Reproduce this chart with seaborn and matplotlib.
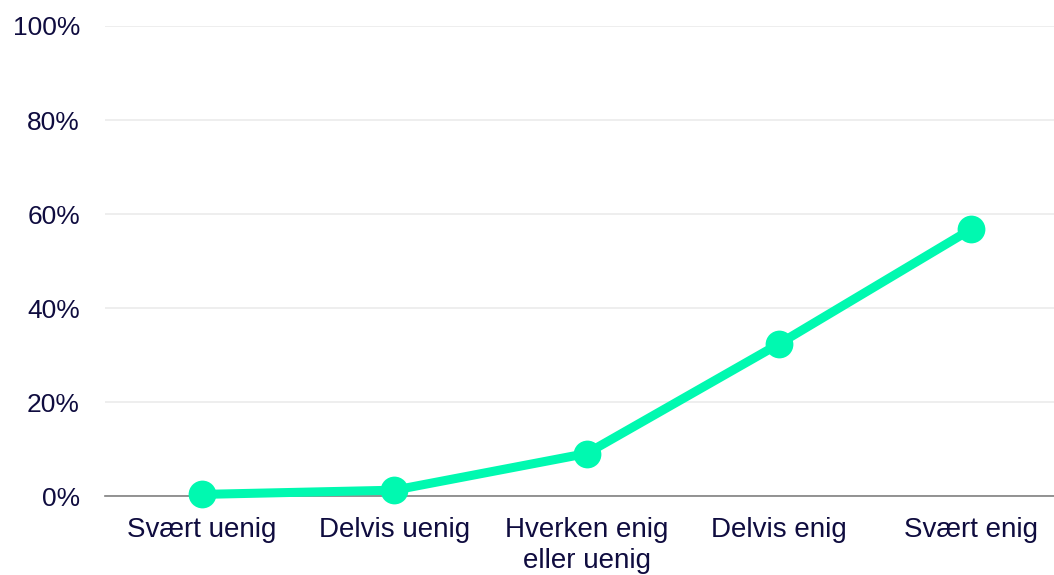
import matplotlib
matplotlib.use("Agg")
import matplotlib.pyplot as plt
import seaborn as sns
import pandas as pd
from matplotlib.ticker import FuncFormatter

categories = ["Svært uenig", "Delvis uenig", "Hverken enig\neller uenig", "Delvis enig", "Svært enig"]
values = [0.4, 1.3, 9.1, 32.4, 56.8]
yticks = [0, 20, 40, 60, 80, 100]

sns.set_theme(style="white")
plt.rcParams['font.family'] = ['Liberation Sans', 'DejaVu Sans']

W, H = 1054, 575
fig = plt.figure(figsize=(W / 100, H / 100), dpi=100)
ax = fig.add_axes([105 / W, 1 - 496.3 / H, (W - 105) / W, (496.3 - 26) / H])

df = pd.DataFrame({"x": range(len(categories)), "y": values})
sns.lineplot(data=df, x="x", y="y", ax=ax, color="#00F9B0", linewidth=6.5,
             marker="o", markersize=20, markeredgewidth=0, clip_on=False, zorder=5)

text_color = "#0F0C3F"
ax.set_xlim(-97 / 192.3, (W - 202) / 192.3)
ax.set_ylim(0, 100)
ax.set_xticks(range(len(categories)))
ax.set_xticklabels(categories)
ax.set_yticks(yticks)
ax.yaxis.set_major_formatter(FuncFormatter(lambda v, p: f"{int(v)}%"))
ax.tick_params(axis="x", length=0, pad=15, labelsize=20, labelcolor=text_color)
ax.tick_params(axis="y", length=0, pad=18, labelsize=19, labelcolor=text_color)
for lab in ax.get_xticklabels():
    lab.set_linespacing(1.25)
for lab in ax.get_yticklabels():
    lab.set_horizontalalignment("right")

ax.grid(axis="y", color="#EBEBEB", linewidth=1.2)
ax.grid(axis="x", visible=False)
for s in ["top", "right", "left"]:
    ax.spines[s].set_visible(False)
ax.spines["bottom"].set_color("#808080")
ax.spines["bottom"].set_linewidth(1.2)
ax.set_xlabel("")
ax.set_ylabel("")

fig.savefig("out.png", dpi=100)
